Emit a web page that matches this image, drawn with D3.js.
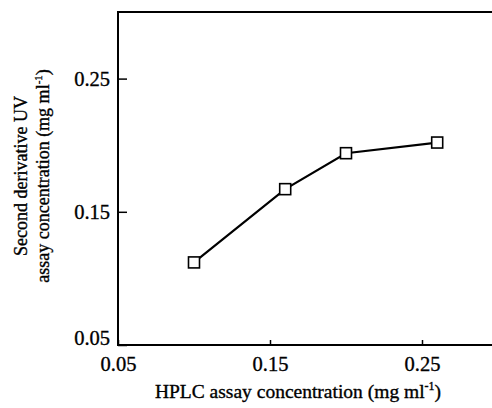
<!DOCTYPE html>
<html>
<head>
<meta charset="utf-8">
<script src="https://cdn.jsdelivr.net/npm/d3@7"></script>
<style>
  html, body { margin: 0; padding: 0; background: #fff; }
  svg { display: block; }
  text { font-family: "Liberation Serif", "DejaVu Serif", serif; fill: #000; stroke: #000; stroke-width: 0.35px; }
</style>
</head>
<body>
<svg id="chart" width="492" height="408"></svg>
<script>
// Data
const hplc = [0.10, 0.16, 0.20, 0.26];
const uv = [0.112, 0.167, 0.194, 0.202];
const xTicks = [0.05, 0.15, 0.25];
const yTicks = [0.05, 0.15, 0.25];
const xDomain = [0.05, 0.30];
const yDomain = [0.05, 0.30];

const svg = d3.select("#chart");
const plotLeft = 118, plotTop = 12, plotBottom = 345;
const x = d3.scaleLinear().domain([0.05, 0.25]).range([118, 422]);
const y = d3.scaleLinear().domain(yDomain).range([plotBottom, plotTop]);
const xRight = x(xDomain[1]);

const g = svg.append("g");
const fmt = d3.format(".2f");

// x axis
const xAxis = d3.axisBottom(x).tickValues(xTicks).tickSize(-5).tickSizeOuter(0).tickPadding(11).tickFormat(fmt);
const gx = g.append("g").attr("transform", `translate(0,${plotBottom})`).call(xAxis);
gx.select(".domain").remove();
gx.selectAll(".tick line").attr("stroke", "#000").attr("stroke-width", 1.5);
gx.selectAll(".tick text").attr("font-size", 20.5).attr("dy", "0.72em")
  .attr("font-family", "Liberation Serif").attr("fill", "#000");

// y axis
const yAxis = d3.axisLeft(y).tickValues(yTicks).tickSize(-9).tickSizeOuter(0).tickPadding(8).tickFormat(fmt);
const gy = g.append("g").attr("transform", `translate(${plotLeft},0)`).call(yAxis);
gy.select(".domain").remove();
gy.selectAll(".tick line").attr("stroke", "#000").attr("stroke-width", 1.5);
gy.selectAll(".tick text").attr("font-size", 20.5).attr("font-family", "Liberation Serif").attr("fill", "#000")
  .attr("dy", (d, i) => i === 0 ? "-0.02em" : "0.32em");

// frame lines: left, top, bottom (right side is cut off by the image edge)
g.append("line").attr("x1", plotLeft).attr("x2", xRight).attr("y1", plotBottom).attr("y2", plotBottom)
  .attr("stroke", "#000").attr("stroke-width", 2);
g.append("line").attr("x1", plotLeft).attr("x2", xRight).attr("y1", plotTop).attr("y2", plotTop)
  .attr("stroke", "#000").attr("stroke-width", 2);
g.append("line").attr("x1", plotLeft).attr("x2", plotLeft).attr("y1", plotTop - 1).attr("y2", plotBottom + 1)
  .attr("stroke", "#000").attr("stroke-width", 2);

// series line
const pts = hplc.map((v, i) => [v, uv[i]]);
g.append("path").datum(pts)
  .attr("d", d3.line().x(d => x(d[0])).y(d => y(d[1])))
  .attr("fill", "none").attr("stroke", "#000").attr("stroke-width", 2.2);

// markers
const s = 11;
g.selectAll("rect.m").data(pts).enter().append("rect").attr("class", "m")
  .attr("x", d => x(d[0]) - s / 2).attr("y", d => y(d[1]) - s / 2)
  .attr("width", s).attr("height", s)
  .attr("fill", "#fff").attr("stroke", "#000").attr("stroke-width", 1.6);

// x axis title
const xt = svg.append("text").attr("x", 298).attr("y", 398).attr("text-anchor", "middle").attr("font-size", 19.5);
xt.append("tspan").text("HPLC assay concentration (mg ml");
xt.append("tspan").attr("font-size", 12).attr("dy", -8).text("-1");
xt.append("tspan").attr("dy", 8).text(")");

// y axis title (two lines)
const yt = svg.append("g").attr("transform", "translate(27,176) rotate(-90)");
yt.append("text").attr("x", 0).attr("y", 0).attr("text-anchor", "middle").attr("font-size", 18)
  .text("Second derivative UV");
const yt2 = yt.append("text").attr("x", 0).attr("y", 22).attr("text-anchor", "middle").attr("font-size", 18);
yt2.append("tspan").text("assay concentration (mg ml");
yt2.append("tspan").attr("font-size", 11).attr("dy", -7).text("-1");
yt2.append("tspan").attr("dy", 7).text(")");
</script>
</body>
</html>
